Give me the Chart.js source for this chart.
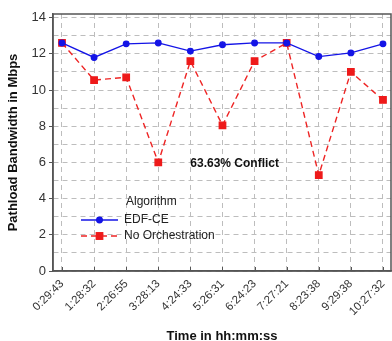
<!DOCTYPE html>
<html>
<head>
<meta charset="utf-8">
<script src="https://cdn.jsdelivr.net/npm/chart.js@4/dist/chart.umd.min.js"></script>
<style>
    html, body { margin: 0; padding: 0; background: #fff; }
    #wrap { width: 392px; height: 341px; position: relative; }
</style>
</head>
<body>
<div id="wrap"><canvas id="bwChart"></canvas></div>
<script>
/* ======================================================
   DATA
====================================================== */
const timeLabels = ['0:29:43', '1:28:32', '2:26:55', '3:28:13', '4:24:33', '5:26:31',
                    '6:24:23', '7:27:21', '8:23:38', '9:29:38', '10:27:32'];
const edfCe = [12.6, 11.8, 12.55, 12.6, 12.15, 12.5, 12.6, 12.6, 11.85, 12.05, 12.55];
const noOrch = [12.6, 10.55, 10.7, 6.0, 11.6, 8.05, 11.6, 12.6, 5.3, 11.0, 9.45];
const yTicks = [0, 1, 2, 3, 4, 5, 6, 7, 8, 9, 10, 11, 12, 13, 14];
const conflictText = '63.63% Conflict';

const FONT = "'Liberation Sans', Arial, sans-serif";

const toPoints = arr => arr.map((v, i) => ({ x: i, y: v }));

/* ======================================================
   PLUGINS (frame, note, legend box)
====================================================== */
const framePlugin = {
    id: 'frame',
    afterDatasetsDraw(chart) {
        const { ctx, chartArea: a, scales } = chart;
        ctx.save();
        ctx.strokeStyle = '#555';
        ctx.lineWidth = 1.5;
        ctx.strokeRect(a.left, a.top, a.right - a.left, a.bottom - a.top);
        // short inward ticks on the time axis
        ctx.lineWidth = 1;
        ctx.beginPath();
        scales.x.ticks.forEach(t => {
            const px = Math.round(scales.x.getPixelForValue(t.value)) + 0.5;
            ctx.moveTo(px, a.bottom);
            ctx.lineTo(px, a.bottom - 4);
        });
        ctx.stroke();
        ctx.restore();
    }
};

const notePlugin = {
    id: 'note',
    afterDatasetsDraw(chart) {
        const { ctx, scales } = chart;
        ctx.save();
        ctx.font = `bold 12px ${FONT}`;
        ctx.fillStyle = '#111';
        ctx.textAlign = 'center';
        ctx.textBaseline = 'middle';
        ctx.fillText(conflictText, scales.x.getPixelForValue(5.38), scales.y.getPixelForValue(5.95));
        ctx.restore();
    }
};

const legendPlugin = {
    id: 'boxLegend',
    afterDraw(chart) {
        const { ctx } = chart;
        ctx.save();
        ctx.font = `12px ${FONT}`;
        ctx.fillStyle = '#222';
        ctx.textBaseline = 'middle';
        ctx.fillText('Algorithm', 126, 202);

        chart.data.datasets.forEach((ds, i) => {
            const y = 220 + i * 16;
            ctx.strokeStyle = ds.borderColor;
            ctx.lineWidth = ds.borderWidth;
            ctx.setLineDash(ds.borderDash || []);
            ctx.beginPath();
            ctx.moveTo(81, y);
            ctx.lineTo(118, y);
            ctx.stroke();
            ctx.setLineDash([]);
            Chart.helpers.drawPoint(ctx, {
                pointStyle: ds.pointStyle,
                radius: ds.pointRadius,
                borderWidth: 1
            }, 99.5, y);
            ctx.fillStyle = ds.pointBackgroundColor;
            ctx.fill();
            ctx.fillStyle = '#222';
            ctx.fillText(ds.label, 124, y);
        });
        ctx.restore();
    }
};

/* ======================================================
   CHART
====================================================== */
const ctx = document.getElementById('bwChart').getContext('2d');

new Chart(ctx, {
    type: 'line',
    data: {
        datasets: [{
            label: 'EDF-CE',
            data: toPoints(edfCe),
            borderColor: '#1414e6',
            backgroundColor: '#1414e6',
            pointBackgroundColor: '#1414e6',
            pointBorderColor: '#1414e6',
            borderWidth: 1.3,
            pointStyle: 'circle',
            pointRadius: 2.8,
            tension: 0
        }, {
            label: 'No Orchestration',
            data: toPoints(noOrch),
            borderColor: '#ee2424',
            backgroundColor: '#ee2424',
            pointBackgroundColor: '#ee1a1a',
            pointBorderColor: '#ee1a1a',
            borderWidth: 1.4,
            borderDash: [6, 4],
            pointStyle: 'rect',
            pointRadius: 4.5,
            tension: 0
        }]
    },
    options: {
        responsive: true,
        maintainAspectRatio: false,
        animation: false,
        layout: {
            autoPadding: false,
            padding: { top: 14, right: 1, left: 0, bottom: 0 }
        },
        plugins: {
            legend: { display: false },
            tooltip: { enabled: false }
        },
        scales: {
            x: {
                type: 'linear',
                min: -0.28,
                max: 10.25,
                afterBuildTicks: s => { s.ticks = timeLabels.map((_, i) => ({ value: i })); },
                afterFit: s => {
                    s.height = 70;
                    s.paddingLeft = 0;
                    s.paddingRight = 0;
                },
                ticks: {
                    autoSkip: false,
                    maxRotation: 45,
                    minRotation: 45,
                    padding: 6,
                    color: '#333',
                    font: { family: FONT, size: 11.5 },
                    callback: v => timeLabels[v]
                },
                grid: {
                    color: '#bdbdbd',
                    drawTicks: false
                },
                border: { color: '#555', width: 1.5, dash: [5, 4] },
                title: {
                    display: true,
                    text: 'Time in hh:mm:ss',
                    color: '#111',
                    font: { family: FONT, size: 13, weight: 'bold' },
                    padding: { top: 0, bottom: -3 }
                }
            },
            y: {
                min: 0,
                max: 14.2,
                afterBuildTicks: s => { s.ticks = yTicks.map(v => ({ value: v })); },
                afterFit: s => { s.width = 53; },
                ticks: {
                    autoSkip: false,
                    padding: 3,
                    color: '#333',
                    font: { family: FONT, size: 13 },
                    callback: v => (v % 2 === 0 ? v : '')
                },
                grid: {
                    color: '#bdbdbd',
                    tickColor: ctx => (ctx.tick.value % 2 === 0 ? '#555' : 'rgba(0,0,0,0)'),
                    tickLength: 4,
                    tickBorderDash: []
                },
                border: { color: '#555', width: 1.5, dash: [5, 4] },
                title: {
                    display: true,
                    text: 'Pathload Bandwidth in Mbps',
                    color: '#111',
                    font: { family: FONT, size: 13, weight: 'bold' },
                    padding: { top: 6, bottom: 0 }
                }
            }
        }
    },
    plugins: [framePlugin, notePlugin, legendPlugin]
});
</script>
</body>
</html>
